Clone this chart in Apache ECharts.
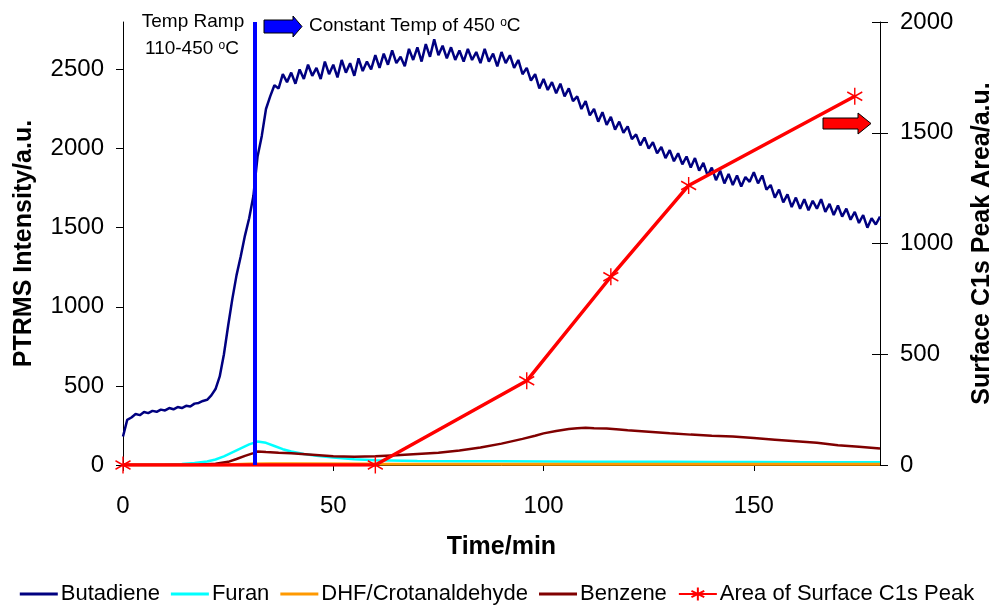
<!DOCTYPE html>
<html>
<head>
<meta charset="utf-8">
<script src="https://cdn.jsdelivr.net/npm/echarts@6/dist/echarts.min.js"></script>
<style>html,body{margin:0;padding:0;background:#fff}#c{width:994px;height:606px}</style>
</head>
<body>
<div id="c"></div>
<script>
// ---- data ----
// Butadiene sampled every minute from 0 to 180 min
const butadiene = [
180,285,300,322,315,335,328,342,336,350,
345,360,352,366,360,374,370,388,392,405,
412,440,480,560,700,880,1050,1200,1320,1450,
1560,1700,1950,2080,2250,2330,2400,2380,2470,2420,
2480,2410,2500,2440,2530,2460,2510,2440,2550,2470,
2530,2450,2560,2480,2540,2460,2570,2490,2550,2500,
2590,2510,2600,2530,2620,2540,2580,2520,2630,2560,
2640,2550,2660,2580,2690,2590,2650,2570,2640,2560,
2620,2550,2630,2560,2610,2540,2630,2550,2600,2520,
2610,2540,2590,2510,2560,2470,2510,2430,2470,2380,
2440,2370,2420,2350,2410,2330,2380,2300,2330,2250,
2300,2210,2250,2170,2230,2150,2200,2120,2170,2100,
2140,2060,2090,2020,2070,2000,2040,1970,2010,1940,
1990,1920,1970,1900,1950,1880,1940,1860,1910,1830,
1880,1800,1860,1780,1840,1770,1830,1760,1820,1790,
1850,1780,1830,1740,1770,1690,1740,1660,1710,1630,
1690,1620,1680,1610,1670,1620,1680,1600,1650,1580,
1640,1570,1620,1550,1600,1530,1580,1500,1560,1520,
1570
];
const furanTime = [0,5,10,14,17,20,22,24,26,28,30,32,34,36,38,40,43,46,50,55,60,70,80,90,100,110,120,130,140,150,160,170,180];
const furan     = [0,0,2,6,12,22,35,55,80,105,130,148,140,120,100,85,70,58,47,37,30,26,24,23,22,21,20,20,19,19,18,18,18];
const dhfTime = [0,20,25,30,35,40,60,100,180];
const dhf     = [0,0,2,6,8,8,6,5,5];
const benzeneTime = [0,10,18,22,25,27,29,31,32,34,37,40,45,50,55,60,65,70,75,80,85,90,95,98,100,103,106,108,110,112,115,118,120,125,130,135,140,145,150,155,160,165,170,175,180];
const benzene     = [0,0,2,8,20,38,58,75,85,82,78,75,65,55,52,55,62,70,78,92,110,135,165,185,200,215,228,233,235,232,230,225,220,210,200,192,185,180,170,160,150,140,125,115,105];
const c1sTime = [0,60,96,116,134.5,174];
const c1sArea = [0,0,380,850,1262,1665];
const rampEndTime = 31.4;
const xTicks = [0,50,100,150];
const yLeftTicks = [0,500,1000,1500,2000,2500];
const seriesNames = ['Butadiene','Furan','DHF/Crotanaldehyde','Benzene','Area of Surface C1s Peak'];

// ---- build ----
const pair = (t, v) => t.map((x, i) => [x, v[i]]);
const butadienePts = butadiene.map((v, i) => [i, v]);
const FONT = 'Liberation Sans, Arial, sans-serif';
const starPath = 'path://M0,-10L0,10M-8.66,-5L8.66,5M-8.66,5L8.66,-5';
const lineIcon = 'path://M0,0H40V3H0Z';
const plain = v => String(v);

const chart = echarts.init(document.getElementById('c'), null, {renderer: 'canvas'});
chart.setOption({
  animation: false,
  backgroundColor: '#fff',
  textStyle: {fontFamily: FONT},
  grid: {left: 123, right: 114, top: 22, bottom: 141, containLabel: false, outerBoundsMode: 'none'},
  legend: {
    data: [
      {name: seriesNames[0], icon: lineIcon},
      {name: seriesNames[1], icon: lineIcon},
      {name: seriesNames[2], icon: lineIcon},
      {name: seriesNames[3], icon: lineIcon},
      {name: seriesNames[4]}
    ],
    top: 578, left: 'center', itemWidth: 38, itemHeight: 16, itemGap: 11,
    textStyle: {fontSize: 22, color: '#000', fontFamily: FONT, padding: [0, 0, 0, -2]}
  },
  xAxis: {
    type: 'value', min: 0, max: 180, interval: 50,
    name: 'Time/min', nameLocation: 'middle', nameGap: 70,
    nameTextStyle: {fontSize: 25, fontWeight: 'bold', color: '#000'},
    axisLine: {show: true, onZero: false, lineStyle: {color: '#000', width: 1}},
    axisTick: {show: true, length: 6, customValues: xTicks, lineStyle: {color: '#000'}},
    axisLabel: {fontSize: 24, color: '#000', margin: 29, customValues: xTicks, formatter: plain},
    splitLine: {show: false}
  },
  yAxis: [
    {
      type: 'value', min: 0, max: 2800, position: 'left',
      name: 'PTRMS Intensity/a.u.', nameLocation: 'middle', nameGap: 86,
      nameTextStyle: {fontSize: 25, fontWeight: 'bold', color: '#000'},
      axisLine: {show: true, lineStyle: {color: '#000', width: 1}},
      axisTick: {show: true, length: 7, customValues: yLeftTicks, lineStyle: {color: '#000'}},
      axisLabel: {fontSize: 24, color: '#000', margin: 19, customValues: yLeftTicks, formatter: plain},
      splitLine: {show: false}
    },
    {
      type: 'value', min: 0, max: 2000, interval: 500, position: 'right',
      name: 'Surface C1s Peak Area/a.u.', nameLocation: 'middle', nameGap: 90,
      nameTextStyle: {fontSize: 25, fontWeight: 'bold', color: '#000'},
      axisLine: {show: true, lineStyle: {color: '#000', width: 1}},
      axisTick: {show: true, length: 8, lineStyle: {color: '#000'}},
      axisLabel: {fontSize: 24, color: '#000', margin: 20, formatter: plain},
      splitLine: {show: false}
    },
    {
      type: 'value', min: 0, max: 2000, interval: 500, position: 'right',
      axisLine: {show: false},
      axisTick: {show: true, inside: true, length: 8, lineStyle: {color: '#000'}},
      axisLabel: {show: false}, splitLine: {show: false}
    }
  ],
  series: [
    {
      name: seriesNames[0], type: 'line', data: butadienePts, showSymbol: false, symbol: 'none',
      lineStyle: {color: '#000080', width: 2.5}, itemStyle: {color: '#000080'}, z: 2,
      markLine: {
        silent: true, symbol: ['none', 'none'], label: {show: false},
        lineStyle: {color: '#0000FF', width: 4, type: 'solid'},
        data: [{xAxis: rampEndTime}], z: 5
      }
    },
    {
      name: seriesNames[1], type: 'line', data: pair(furanTime, furan), showSymbol: false, symbol: 'none',
      lineStyle: {color: '#00FFFF', width: 2.5}, itemStyle: {color: '#00FFFF'}, z: 2
    },
    {
      name: seriesNames[2], type: 'line', data: pair(dhfTime, dhf), showSymbol: false, symbol: 'none',
      lineStyle: {color: '#FF9900', width: 3}, itemStyle: {color: '#FF9900'}, z: 2
    },
    {
      name: seriesNames[3], type: 'line', data: pair(benzeneTime, benzene), showSymbol: false, symbol: 'none',
      lineStyle: {color: '#800000', width: 2.5}, itemStyle: {color: '#800000'}, z: 2
    },
    {
      name: seriesNames[4], type: 'line', yAxisIndex: 1, data: pair(c1sTime, c1sArea),
      symbol: starPath, symbolSize: [15, 17], showSymbol: true,
      lineStyle: {color: '#FF0000', width: 3.5},
      itemStyle: {color: '#FF0000', borderColor: '#FF0000', borderWidth: 1.5}, z: 4
    }
  ],
  graphic: [
    {type: 'text', x: 193, y: 22, style: {text: 'Temp Ramp', fill: '#000', font: '19px ' + FONT, align: 'center', verticalAlign: 'middle'}},
    {type: 'text', x: 192, y: 49, style: {text: '110-450 {s|o}C', fill: '#000', font: '19px ' + FONT, align: 'center', verticalAlign: 'middle',
      rich: {s: {fontSize: 12, verticalAlign: 'top', fill: '#000', fontFamily: FONT}}}},
    {type: 'text', x: 309, y: 26, style: {text: 'Constant Temp of 450 {s|o}C', fill: '#000', font: '19px ' + FONT, align: 'left', verticalAlign: 'middle',
      rich: {s: {fontSize: 12, verticalAlign: 'top', fill: '#000', fontFamily: FONT}}}},
    {type: 'polygon', shape: {points: [[264,20],[293,20],[293,16],[302,26.5],[293,37],[293,33],[264,33]]},
      style: {fill: '#0000FF', stroke: '#000', lineWidth: 1}, z: 10},
    {type: 'polygon', shape: {points: [[823,118],[858,118],[858,113],[871,123.5],[858,134],[858,129],[823,129]]},
      style: {fill: '#FF0000', stroke: '#000', lineWidth: 1}, z: 10}
  ]
});
</script>
</body>
</html>
